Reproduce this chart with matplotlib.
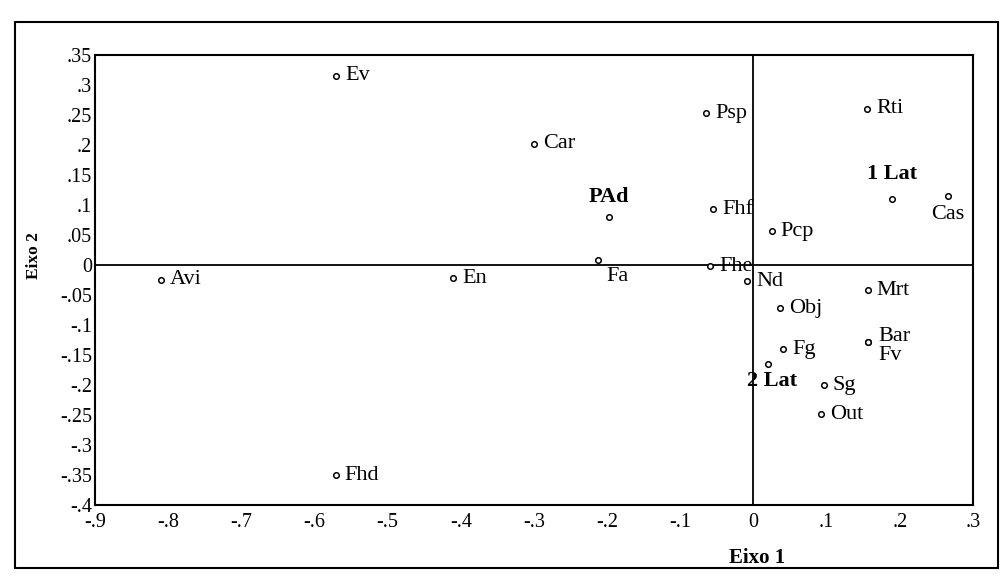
import matplotlib
matplotlib.use("Agg")
import matplotlib.pyplot as plt
import matplotlib.ticker as ticker
from matplotlib.patches import Rectangle

plt.rcParams['font.family'] = ['Liberation Serif', 'DejaVu Serif']

# coordinates
names = ["Ev", "Car", "Psp", "Rti", "PAd", "Fhf", "1 Lat", "Cas", "Pcp",
         "Avi", "En", "Fa", "Fhe", "Nd", "Mrt", "Obj", "Bar", "Fv", "Fg",
         "2 Lat", "Sg", "Out", "Fhd"]
eixo1 = [-0.57, -0.30, -0.065, 0.155, -0.197, -0.055, 0.189, 0.266, 0.025,
         -0.81, -0.41, -0.212, -0.059, -0.009, 0.156, 0.036, 0.157, 0.157, 0.041,
         0.020, 0.096, 0.092, -0.571]
eixo2 = [0.315, 0.202, 0.253, 0.26, 0.08, 0.093, 0.11, 0.114, 0.056,
         -0.025, -0.022, 0.008, -0.002, -0.027, -0.042, -0.072, -0.128, -0.128, -0.141,
         -0.165, -0.201, -0.249, -0.351]
bold_names = ["PAd", "1 Lat", "2 Lat"]

xticks = [-0.9, -0.8, -0.7, -0.6, -0.5, -0.4, -0.3, -0.2, -0.1, 0, 0.1, 0.2, 0.3]
yticks = [-0.4, -0.35, -0.3, -0.25, -0.2, -0.15, -0.1, -0.05, 0,
          0.05, 0.1, 0.15, 0.2, 0.25, 0.3, 0.35]

# label placement (offset in points, ha, va); default: right of the marker
label_pos = {
    "PAd": ((0, 7), "center", "bottom"),
    "1 Lat": ((0, 11), "center", "bottom"),
    "Cas": ((0, -6), "center", "top"),
    "Fa": ((6, -5), "left", "top"),
    "2 Lat": ((3, -5), "center", "top"),
    "Bar": ((7, 4), "left", "center"),
    "Fv": ((7, -10), "left", "center"),
}


def fmt(v, _):
    s = f"{v:g}"
    return s.replace("0.", ".")


fig = plt.figure(figsize=(10.04, 5.81), dpi=100)
fig.patches.append(Rectangle((0.015, 0.022), 0.979, 0.94, transform=fig.transFigure,
                             fill=False, lw=1.5, ec="black"))
ax = fig.add_axes([0.0946, 0.131, 0.8745, 0.7745])

ax.axhline(0, color="black", lw=1.3)
ax.axvline(0, color="black", lw=1.3)
ax.plot(eixo1, eixo2, "o", ms=4, mfc="white", mec="black", mew=1.1, ls="none")

for n, x, y in zip(names, eixo1, eixo2):
    off, ha, va = label_pos.get(n, ((6.5, 0), "left", "center"))
    ax.annotate(n, (x, y), xytext=off, textcoords="offset points", ha=ha, va=va,
                fontsize=16, fontweight="bold" if n in bold_names else "normal")

ax.set_xlim(-0.9, 0.3)
ax.set_ylim(-0.4, 0.35)
ax.set_xticks(xticks)
ax.set_yticks(yticks)
ax.xaxis.set_major_formatter(ticker.FuncFormatter(fmt))
ax.yaxis.set_major_formatter(ticker.FuncFormatter(fmt))
ax.tick_params(length=0, labelsize=14.5)
ax.tick_params(axis="y", pad=2)
ax.tick_params(axis="x", pad=6)
for sp in ax.spines.values():
    sp.set_linewidth(1.5)

ax.set_xlabel("Eixo 1", fontsize=15, fontweight="bold")
ax.xaxis.set_label_coords(0.754, -0.095)
ax.set_ylabel("Eixo 2", fontsize=12.5, fontweight="bold")
ax.yaxis.set_label_coords(-0.06, 0.555)

fig.savefig("out.png", dpi=100)
